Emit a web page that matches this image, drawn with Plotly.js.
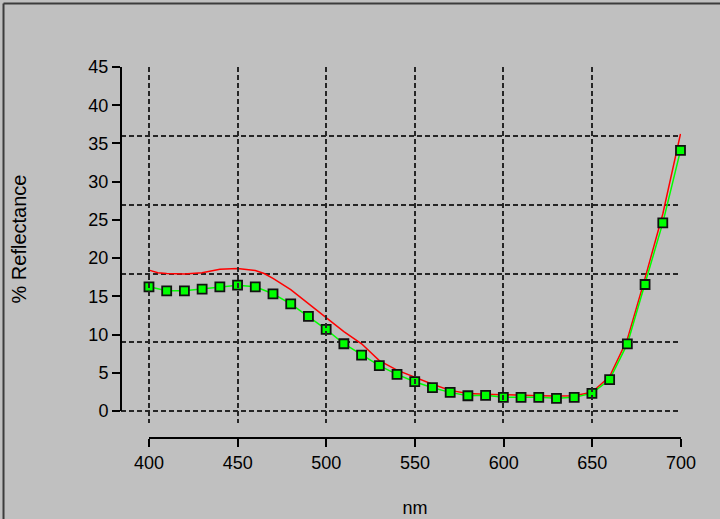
<!DOCTYPE html>
<html>
<head>
<meta charset="utf-8">
<script src="https://cdn.plot.ly/plotly-3.0.1.min.js"></script>
<style>html,body{margin:0;padding:0;background:#c0c0c0;}</style>
</head>
<body>
<div id="chart" style="width:720px;height:519px;"></div>
<script>
// Measured series (green, with markers, every 10 nm)
var measuredNm = [400,410,420,430,440,450,460,470,480,490,500,510,520,530,540,550,560,570,580,590,600,610,620,630,640,650,660,670,680,690,700];
var measuredPct = [16.26,15.74,15.74,15.96,16.26,16.48,16.26,15.35,14.04,12.39,10.69,8.81,7.33,5.95,4.8,3.84,3.05,2.44,2.0,2.05,1.79,1.79,1.79,1.66,1.79,2.31,4.12,8.79,16.57,24.64,34.14];
// Reference/target series (red, line only)
var targetNm = [400,405,410,420,430,440,450,460,465,470,480,490,500,510,520,530,540,550,560,570,580,590,600,610,620,630,640,650,660,670,680,690,700];
var targetPct = [18.45,18.1,18.0,17.95,18.1,18.55,18.65,18.4,18.0,17.36,15.9,14.1,12.3,10.4,8.8,6.6,5.36,4.4,3.5,2.7,2.3,2.2,2.1,2.05,2.0,1.95,2.0,2.45,4.5,9.4,17.4,25.8,36.3];
// Axis ticks and grid positions
var xTicks = [400,450,500,550,600,650,700];
var xTickText = ['400','450','500','550','600','650','700'];
var yTicks = [0,5,10,15,20,25,30,35,40,45];
var yTickText = ['0','5','10','15','20','25','30','35','40','45'];
var yGrid = [0,9,18,27,36,45];
var xTitle = 'nm';
var yTitle = '% Reflectance';

var fam = 'Arial, "Liberation Sans", sans-serif';
var tickFont = {family:fam, size:18, color:'#000'};
var gridStyle = {showgrid:true, gridcolor:'#262626', gridwidth:2, griddash:'5px,3px'};

var traces = [
  {x:[], y:[], type:'scatter', mode:'markers', xaxis:'x', yaxis:'y2', hoverinfo:'skip', showlegend:false},
  {x:[], y:[], type:'scatter', mode:'markers', xaxis:'x2', yaxis:'y3', hoverinfo:'skip', showlegend:false},
  {x:targetNm, y:targetPct, type:'scatter', mode:'lines', line:{color:'#ff0000', width:1.5}, xaxis:'x', yaxis:'y', hoverinfo:'skip', cliponaxis:false},
  {x:measuredNm, y:measuredPct, type:'scatter', mode:'lines+markers', line:{color:'#00ff00', width:1.5},
   marker:{symbol:'square', size:9, color:'#00ff00', line:{color:'#111', width:1.8}}, xaxis:'x', yaxis:'y', cliponaxis:false}
];

var layout = {
  width:720, height:519,
  paper_bgcolor:'#c0c0c0', plot_bgcolor:'rgba(0,0,0,0)',
  margin:{l:121, r:39, t:67, b:82, autoexpand:false},
  showlegend:false,
  font:tickFont,
  xaxis:Object.assign({domain:[0,1], range:[384.21,700.28], anchor:'y', tickvals:xTicks, showticklabels:false, ticks:'', showline:false, zeroline:false}, gridStyle),
  yaxis:Object.assign({domain:[0.03784,1], range:[-1.57,45.05], anchor:'x', tickvals:yGrid, showticklabels:false, ticks:'', showline:false, zeroline:false}, gridStyle),
  yaxis2:{domain:[0.07027,1], range:[0,45], anchor:'free', position:0, side:'left', showgrid:false, zeroline:false,
    tickvals:yTicks, ticktext:yTickText, ticks:'outside', ticklen:8, tickwidth:2, tickcolor:'#000',
    showline:true, linewidth:2, linecolor:'#000', tickfont:tickFont, automargin:false,
    title:{text:yTitle, font:{family:fam, size:20, color:'#000'}, standoff:55}},
  yaxis3:{domain:[0,0.01], range:[0,1], visible:false},
  xaxis2:{domain:[0.05,1], range:[400,700], anchor:'y3', side:'bottom', showgrid:false, zeroline:false,
    tickvals:xTicks, ticktext:xTickText, ticks:'outside', ticklen:8, tickwidth:2, tickcolor:'#000',
    showline:true, linewidth:2, linecolor:'#000', tickfont:tickFont, automargin:false,
    title:{text:xTitle, font:{family:fam, size:18, color:'#000'}, standoff:30}},
  shapes:[
    {type:'line', xref:'paper', yref:'paper', x0:-0.2098, x1:-0.2098, y0:-0.3, y1:1.1716, line:{color:'#3c3c3c', width:2}},
    {type:'line', xref:'paper', yref:'paper', x0:-0.2098, x1:1.2, y0:1.1716, y1:1.1716, line:{color:'#3c3c3c', width:2}}
  ]
};

Plotly.newPlot('chart', traces, layout, {displayModeBar:false, staticPlot:true});
</script>
</body>
</html>
